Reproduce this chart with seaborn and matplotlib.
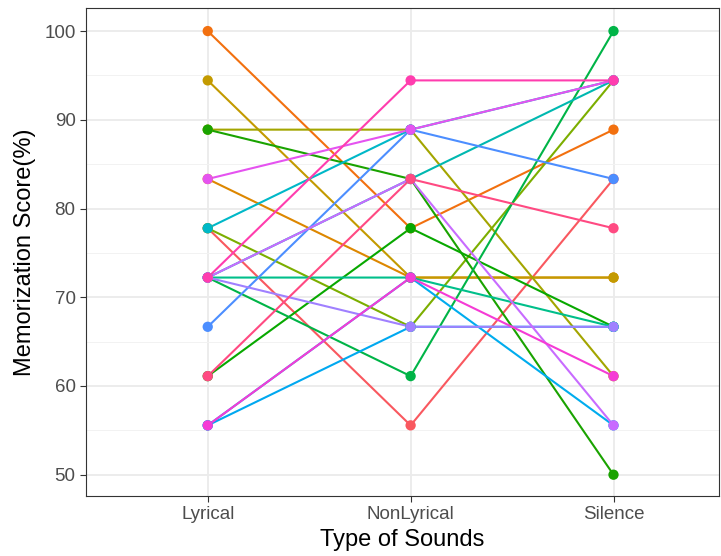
import numpy as np
import pandas as pd
import seaborn as sns
import matplotlib
matplotlib.use("Agg")
import matplotlib.pyplot as plt

# scores per subject for each sound condition (multiples of 100/18)
sounds = ["Lyrical", "NonLyrical", "Silence"]
subjects = ["S%02d" % i for i in range(1, 22)]
lyrical = [77.78, 100.0, 83.33, 94.44, 88.89, 77.78, 88.89, 61.11, 72.22, 72.22, 72.22,
           77.78, 55.56, 55.56, 66.67, 72.22, 72.22, 83.33, 55.56, 72.22, 61.11]
nonlyrical = [55.56, 77.78, 72.22, 72.22, 88.89, 66.67, 83.33, 77.78, 61.11, 72.22, 83.33,
              88.89, 66.67, 72.22, 88.89, 66.67, 83.33, 88.89, 72.22, 94.44, 83.33]
silence = [83.33, 88.89, 72.22, 72.22, 61.11, 94.44, 50.0, 66.67, 100.0, 66.67, 94.44,
           94.44, 66.67, 55.56, 83.33, 66.67, 55.56, 94.44, 61.11, 94.44, 77.78]
colors = ["#F9585F", "#F2700F", "#DD8700", "#C39A00", "#A3A500", "#7CAE00", "#1AA300",
          "#08A800", "#00B447", "#00BF8A", "#00B8B0", "#00B8C8", "#00A8F0", "#00ACEE",
          "#4C8EFF", "#A080FF", "#C86BFF", "#E553F0", "#F53BD5", "#FF3DAE", "#FF4A82"]

df = pd.DataFrame({"subject": subjects * 3,
                   "sound": np.repeat(sounds, len(subjects)),
                   "score": lyrical + nonlyrical + silence})
df["pos"] = df["sound"].map({s: i for i, s in enumerate(sounds)})
pal = dict(zip(subjects, colors))

sns.set_theme(style="white")
plt.rcParams["font.family"] = ["Liberation Sans", "DejaVu Sans"]

fig = plt.figure(figsize=(7.21, 5.56), dpi=100)
ax = fig.add_axes([86 / 721, 1 - 496 / 556, 633 / 721, 488 / 556])

sns.lineplot(data=df, x="pos", y="score", hue="subject", palette=pal, units="subject",
             estimator=None, sort=False, legend=False, linewidth=1.5, ax=ax, zorder=3)
order = df.assign(o=df["subject"].map({s: i for i, s in enumerate(subjects)})).sort_values("o", kind="stable")
sns.scatterplot(data=order, x="pos", y="score", hue="subject", palette=pal, legend=False,
                s=55, linewidth=0, ax=ax, zorder=4)

ax.set_xlim(-0.6, 2.52)
ax.set_ylim(47.6, 102.6)
ax.set_xticks(range(3))
ax.set_xticklabels(sounds)
ax.set_yticks(range(50, 101, 10))
ax.set_yticks(range(55, 100, 10), minor=True)
ax.grid(True, which="major", color="#EBEBEB", linewidth=1.3, zorder=0)
ax.grid(True, which="minor", axis="y", color="#F2F2F2", linewidth=0.7, zorder=0)
ax.set_axisbelow(True)
for sp in ax.spines.values():
    sp.set_color("#333333")
    sp.set_linewidth(0.8)
ax.tick_params(axis="both", which="major", length=4, width=0.8, color="#333333",
               labelcolor="#4D4D4D", labelsize=13.5, bottom=True, left=True, pad=3.5)
ax.tick_params(axis="y", which="minor", length=0)
ax.set_xlabel("Type of Sounds", fontsize=17, color="black", labelpad=4)
ax.set_ylabel("Memorization Score(%)", fontsize=17, color="black", labelpad=6)

fig.savefig("out.png", dpi=100)
